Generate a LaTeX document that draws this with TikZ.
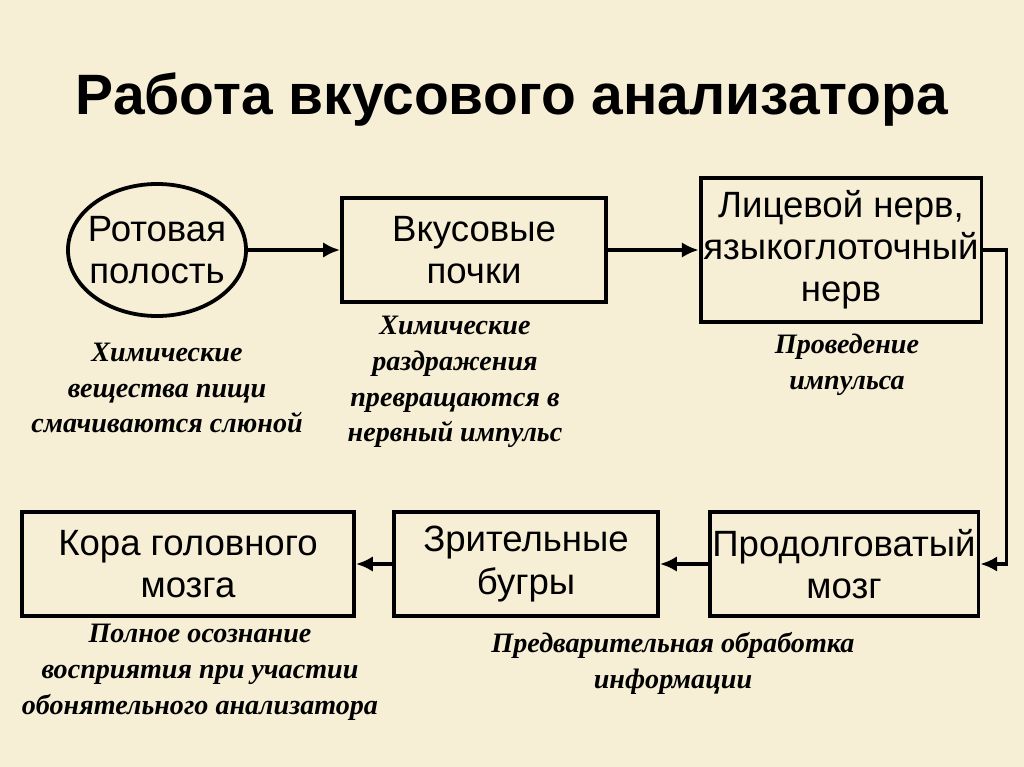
\documentclass[tikz,border=0pt]{standalone}
\usepackage{fontspec}
\setmainfont{Liberation Serif}
\setsansfont{Liberation Sans}
\usetikzlibrary{arrows.meta,shapes.geometric}
\definecolor{paper}{RGB}{246,239,214}

\begin{document}
\begin{tikzpicture}[x=0.025cm, y=-0.025cm, thick]
\tikzstyle{box}=[draw, line width=2.7pt, align=center, inner sep=2pt,
  font=\sffamily\fontsize{26}{30}\selectfont]
\tikzstyle{note}=[align=center, font=\bfseries\itshape\fontsize{20}{25.5}\selectfont]
\tikzstyle{link}=[line width=2.4pt, -{Latex[length=12pt,width=11pt]}]
  \fill[paper] (0,0) rectangle (1024,767);
  \useasboundingbox (0,0) rectangle (1024,767);
  \node[font=\sffamily\bfseries\fontsize{40.5}{42}\selectfont] (title) at (512,100)
    {Работа вкусового анализатора};
  \node[box, ellipse, inner sep=-5pt, minimum width=4.45cm, minimum height=3.3cm] (rot) at (157,250)
    {Ротовая\\полость};
  \foreach \place/\name/\bw/\bh/\txt in {{(474,250)/pochki/6.6/2.6/{Вкусовые\\почки}},
                                         {(841,250)/nerv/6.9/3.6/{Лицевой нерв,\\языкоглоточный\\нерв}},
                                         {(844,564)/prod/6.55/2.6/{Продолговатый\\мозг}},
                                         {(526,564)/zrit/6.6/2.6/{Зрительные\\бугры}},
                                         {(188,564)/kora/8.3/2.6/{Кора головного\\мозга}}}
    \node[box, minimum width=\bw cm, minimum height=\bh cm] (\name) at \place {\txt};
  \foreach \place/\name/\txt in {{(167,388)/rotnote/{Химические\\вещества пищи\\смачиваются слюной}},
                                 {(455,382)/pochkinote/{Химические\\раздражения\\превращаются в\\нервный импульс}},
                                 {(847,365)/nervnote/{Проведение\\импульса}},
                                 {(200,672)/koranote/{Полное осознание\\восприятия при участии\\обонятельного анализатора}},
                                 {(673,663)/zritnote/{Предварительная обработка\\информации}}}
    \node[note] (\name) at \place {\txt};
  \foreach \source/\dest in {rot/pochki,pochki/nerv,prod/zrit,zrit/kora}
      \draw[link] (\source) -- (\dest);
  \draw[link] (nerv.east) -- ++(23,0) |- (prod.east);
\end{tikzpicture}
\end{document}
